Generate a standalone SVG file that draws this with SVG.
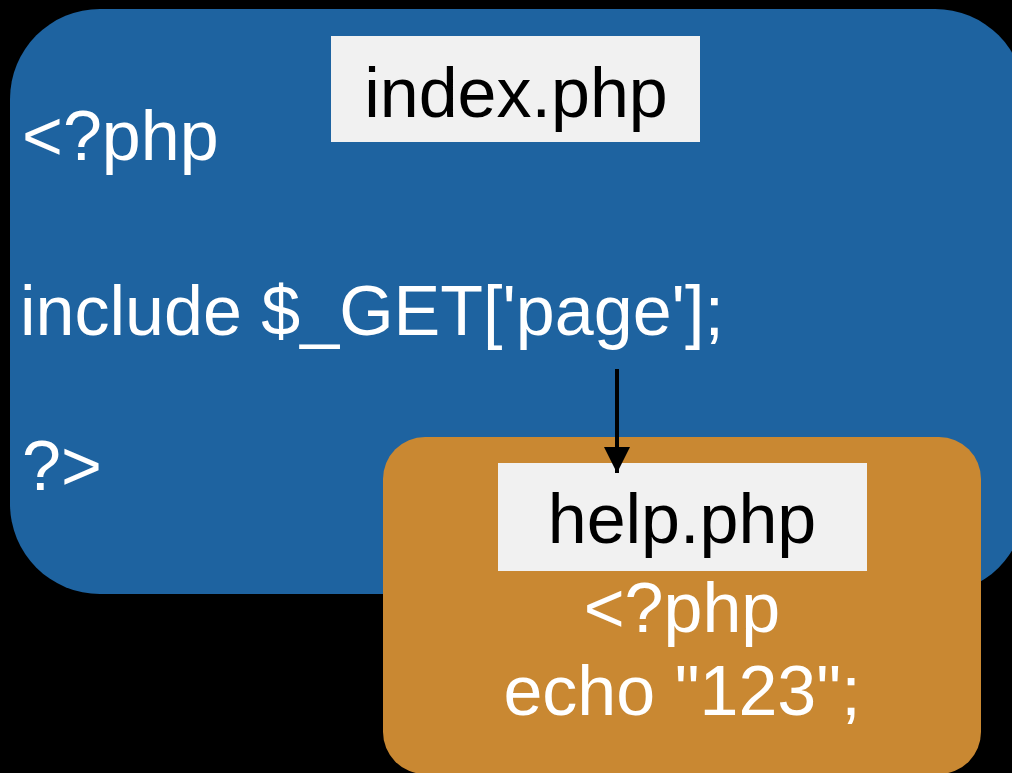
<svg xmlns="http://www.w3.org/2000/svg" width="1012" height="773" viewBox="0 0 1012 773">
  <style>
    .code { font-family: "Liberation Sans", Arial, sans-serif; font-size: 70px; fill: #ffffff; }
    .label { font-family: "Liberation Sans", Arial, sans-serif; font-size: 70px; fill: #000000; text-anchor: middle; }
    .tag { fill: #f1f1f1; }
    .conn { stroke: #000000; stroke-width: 4; fill: none; }
  </style>
  <defs>
    <marker id="arrow" markerUnits="userSpaceOnUse" markerWidth="28" markerHeight="28" refX="26" refY="13" orient="auto">
      <path d="M0,0 L26,13 L0,26 Z" fill="#000000"/>
    </marker>
  </defs>

  <rect x="0" y="0" width="1012" height="773" fill="#000000"/>

  <!-- index.php -->
  <g id="index-php">
    <rect x="10" y="9" width="1015" height="585" rx="90" ry="90" fill="#1e63a0"/>
    <rect class="tag" x="331" y="36" width="369" height="106"/>
    <text class="label" x="516" y="117">index.php</text>
    <text class="code" x="22" y="160">&lt;?php</text>
    <text class="code" x="20" y="335">include $_GET['page'];</text>
    <text class="code" x="22" y="490">?&gt;</text>
  </g>

  <!-- help.php -->
  <g id="help-php">
    <rect x="383" y="437" width="598" height="337" rx="42" ry="42" fill="#c98832"/>
    <rect class="tag" x="498" y="463" width="369" height="108"/>
    <text class="label" x="682" y="543">help.php</text>
    <text class="code" x="682" y="632" text-anchor="middle">&lt;?php</text>
    <text class="code" x="682" y="715" text-anchor="middle" font-size="67">echo "123";</text>
  </g>

  <g id="connectors">
    <line class="conn" x1="617" y1="369" x2="617" y2="473" marker-end="url(#arrow)"/>
  </g>
</svg>
